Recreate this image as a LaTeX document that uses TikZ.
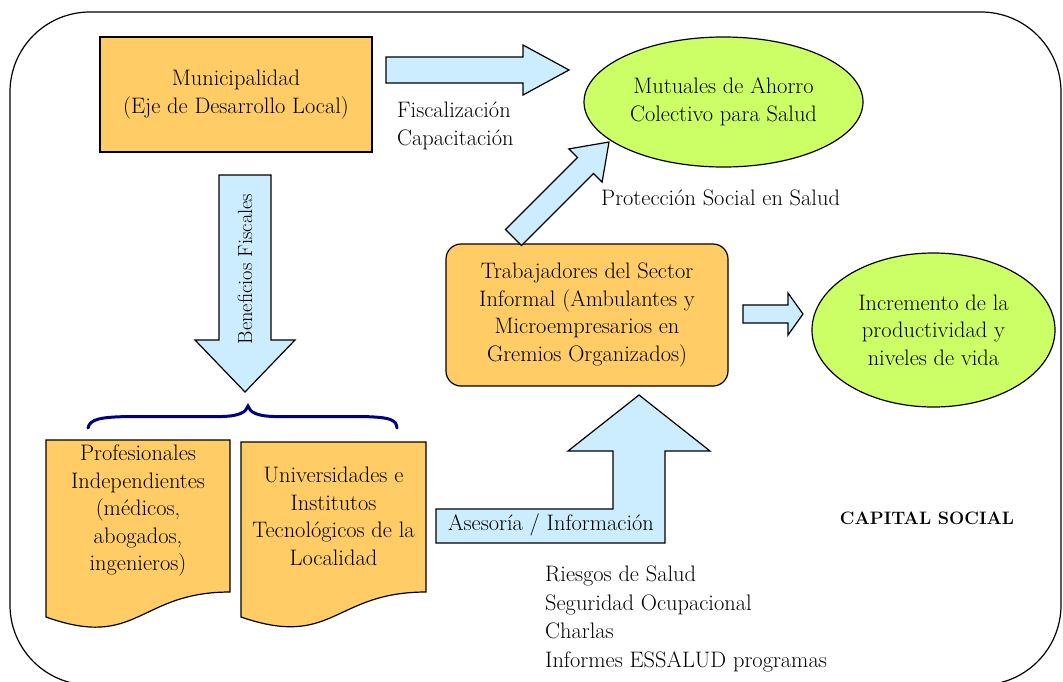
\documentclass[tikz,border=0pt]{standalone}
\usepackage{tikz}
\usetikzlibrary{shapes.geometric}
\definecolor{boxorange}{HTML}{FFCC66}
\definecolor{limegreen}{HTML}{CCFF66}
\definecolor{arrowblue}{HTML}{CCECFF}
\definecolor{bracenavy}{HTML}{000080}
\begin{document}
\begin{tikzpicture}[x=1pt,y=-1pt,
  font=\fontsize{22.4}{27.5}\selectfont,
  orangebox/.style={draw=black, line width=1.2pt, fill=boxorange, align=center, inner sep=0pt},
  limeell/.style={ellipse, draw=black, line width=1.2pt, fill=limegreen, align=center, inner sep=0pt},
  blockarrow/.style={draw=black, line width=1.2pt, fill=arrowblue, line join=miter},
  doc/.style={draw=black, line width=1.2pt, fill=boxorange, line join=miter},
  plaintext/.style={align=left, inner sep=0pt},
  centertext/.style={align=center, inner sep=0pt}]
\clip (0,0) rectangle (1063,681);
\fill[white] (0,0) rectangle (1063,681);
% outer frame
\draw[line width=1.2pt, rounded corners=80pt] (10,12) rectangle (1061,685);

% Municipalidad
\node[orangebox, minimum width=272pt, minimum height=115pt] (muni) at (236,94.5)
  {Municipalidad\\(Eje de Desarrollo Local)};

% Mutuales ellipse
\node[limeell, minimum width=279pt, minimum height=130pt] (mutual) at (723.5,102)
  {Mutuales de Ahorro\\Colectivo para Salud};

% Trabajadores
\node[orangebox, rounded corners=15pt, minimum width=282pt, minimum height=142pt] (trab) at (587,315)
  {Trabajadores del Sector\\Informal (Ambulantes y\\Microempresarios en\\Gremios Organizados)};

% Incremento ellipse
\node[limeell, minimum width=243pt, minimum height=154pt] (incr) at (933.5,330)
  {Incremento de la\\productividad y\\niveles de vida};

% arrow Municipalidad -> Mutuales
\draw[blockarrow] (386,57) -- (523,57) -- (523,45) -- (569,70) -- (523,95) -- (523,83) -- (386,83) -- cycle;
\node[plaintext, anchor=west] (fisc) at (397,126) {Fiscalizaci\'on\\Capacitaci\'on};

% diagonal arrow Trabajadores -> Mutuales
\draw[blockarrow] (505.5,229.5) -- (577.5,157.5) -- (568.9,148.9) -- (609,142) -- (602.1,182.1) -- (593.5,173.5) -- (521.5,245.5) -- cycle;
\node[plaintext, anchor=west] (prot) at (601,198) {Protecci\'on Social en Salud};

% arrow Trabajadores -> Incremento
\draw[blockarrow] (743,305) -- (788,305) -- (788,293) -- (803,314) -- (788,335) -- (788,323) -- (743,323) -- cycle;

% down arrow Beneficios Fiscales
\draw[blockarrow] (219,175) -- (271,175) -- (271,340) -- (295,340) -- (245,392) -- (195,340) -- (219,340) -- cycle;
\node[centertext, rotate=90, font=\fontsize{20.5}{24}\selectfont] (benef) at (245,269) {Beneficios Fiscales};

% brace
\draw[bracenavy, line width=3pt, line cap=round]
  (88,428) .. controls (90,419) and (100,417) .. (130,416.5) -- (222,416.5)
  .. controls (240,416) and (246,412) .. (248,406)
  .. controls (250,412) and (256,416) .. (274,416.5) -- (360,416.5)
  .. controls (392,417) and (396,420) .. (397,428);

% document shapes
\draw[doc] (46,440) -- (230,440) -- (230,592) .. controls (138,592) and (138,650) .. (46,617) -- cycle;
\node[centertext] (prof) at (138,510.5)
  {Profesionales\\Independientes\\(m\'edicos,\\abogados,\\ingenieros)};
\draw[doc] (241,442) -- (426,442) -- (426,592) .. controls (333.5,592) and (333.5,649) .. (241,617) -- cycle;
\node[centertext] (univ) at (333.5,516.5)
  {Universidades e\\Institutos\\Tecnol\'ogicos de la\\Localidad};

% L-shaped arrow Asesoria -> Trabajadores
\draw[blockarrow] (436,509) -- (613,509) -- (613,451) -- (568,451) -- (639,395) -- (710,451) -- (665,451) -- (665,543) -- (436,543) -- cycle;
\node[centertext] (ases) at (551,525) {Asesor\'ia / Informaci\'on};

% list text
\node[plaintext, anchor=west] (riesgos) at (545,619)
  {Riesgos de Salud\\[1.2pt]Seguridad Ocupacional\\[1.2pt]Charlas\\[1.2pt]Informes ESSALUD programas};

% capital social
\node[centertext, font=\fontsize{18}{22}\selectfont\bfseries] (capital) at (927,518) {CAPITAL SOCIAL};
\end{tikzpicture}
\end{document}
